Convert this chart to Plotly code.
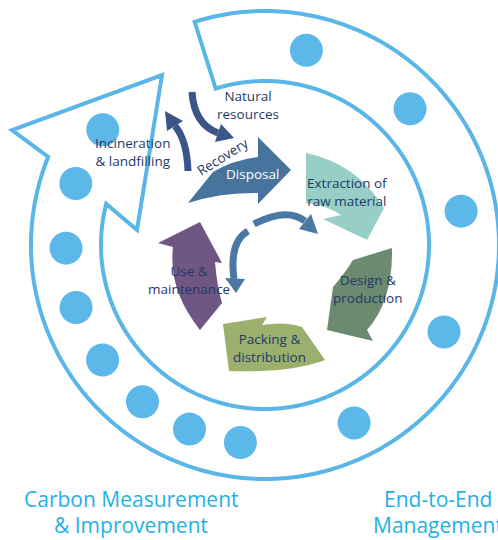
import numpy as np
import plotly.graph_objects as go

W, H = 498, 540

# ---- outer process ring (geometry parameters) ----
ring_center = (265, 245)
ring_r_outer = 234
ring_r_inner = 164
ring_start_deg = -17.5          # square end near the top (clockwise from 12 o'clock)
ring_outer_end_deg = 292.1      # where outer edge meets the arrow head
ring_inner_end_deg = 284.5      # where inner edge meets the arrow head
arrow_head_pts = [(12, 130), (162, 75), (137, 230)]  # left barb, tip, right barb
ring_color = "#5ab6e6"

# dots inside the ring
dot_angles = [12.0, 46.8, 80.2, 115.9, 153.4, 187.1, 202.3, 218.0, 234.7, 251.7, 269.1, 288.0, 305.4]
dot_radius_ring = 199
dot_size = 33
dot_color = "#5bb8e8"

# ---- inner life-cycle arrows (outline paths) ----
cycle_names = ["Disposal", "Extraction", "Design", "Packing", "Use"]
cycle_colors = ["#46749c", "#97cfc7", "#6b8a6f", "#9bb06c", "#6f5683"]
cycle_paths = [
    "M 188 203 L 213 172 Q 233 160 258 157 L 258 137 L 291 170 L 258 204 L 258 193 Q 222 192 188 203 Z",
    "M 306 153 Q 356 163 384 208 L 367 240 L 323 219 L 341 215 Q 326 205 306 203 Z",
    "M 353 260 L 392 248 Q 393 301 367 330 L 373 341 L 327 330 L 333 287 Q 345 273 353 260 Z",
    "M 302 327 L 325 360 Q 291 373 229 371 L 223 324 L 267 317 L 262 325 Q 285 321 302 327 Z",
    "M 200 330 Q 168 290 173 247 L 158 243 L 200 222 L 222 263 L 215 262 Q 217 286 222 303 Z",
]

# small connecting arrows: (line path, head triangle, colour)
small_arrows = [
    ("M 254 224 Q 287 207 305 221", "M 299 229 L 318 234 L 311 214 Z", "#4a78a2"),
    ("M 248 231 Q 229 242 234 279", "M 225 278 L 236 293 L 245 279 Z", "#4a78a2"),
    ("M 192 92 Q 194 124 218 133", "M 215 142 L 234 138 L 221 124 Z", "#3c5589"),
    ("M 188 171 Q 187 140 175 126", "M 183 121 L 165 111 L 167 131 Z", "#3c5589"),
]

# ---- labels ----
label_text = ["Natural<br>resources", "Incineration<br>& landfilling", "Extraction of<br>raw material",
              "Design &<br>production", "Packing &<br>distribution", "Use &<br>maintenance"]
label_xy = [(248, 105), (133, 152), (347, 192), (368, 289), (269, 348), (189, 280)]
navy = "#1f3a68"

caption_lines = ["Carbon Measurement", "& Improvement", "End-to-End", "Management"]
caption_xy = [(131, 499), (131, 525), (438, 499), (438, 525)]
caption_color = "#1fb1e6"

# ---------------------------------------------------------------
cx, cy = ring_center


def polar(r, deg):
    t = np.radians(deg)
    return cx + r * np.sin(t), cy - r * np.cos(t)


parts = []
outer = np.arange(ring_start_deg, ring_outer_end_deg + 0.01, 1.0)
outer = np.append(outer, ring_outer_end_deg)
for i, a in enumerate(outer):
    x, y = polar(ring_r_outer, a)
    parts.append(("M" if i == 0 else "L") + f" {x:.2f} {y:.2f}")
for (x, y) in arrow_head_pts:
    parts.append(f"L {x} {y}")
inner = np.arange(ring_inner_end_deg, ring_start_deg - 0.01, -1.0)
inner = np.append(inner, ring_start_deg)
for a in inner:
    x, y = polar(ring_r_inner, a)
    parts.append(f"L {x:.2f} {y:.2f}")
parts.append("Z")
ring_path = " ".join(parts)

shapes = [dict(type="path", path=ring_path, xref="x", yref="y",
               line=dict(color=ring_color, width=4), fillcolor="rgba(0,0,0,0)", layer="below")]

for p, c in zip(cycle_paths, cycle_colors):
    shapes.append(dict(type="path", path=p, xref="x", yref="y", fillcolor=c, line=dict(width=0)))

for lp, hp, c in small_arrows:
    shapes.append(dict(type="path", path=lp, xref="x", yref="y", line=dict(color=c, width=7)))
    shapes.append(dict(type="path", path=hp, xref="x", yref="y", fillcolor=c, line=dict(width=0)))

fig = go.Figure()

dx = [polar(dot_radius_ring, a)[0] for a in dot_angles]
dy = [polar(dot_radius_ring, a)[1] for a in dot_angles]
fig.add_trace(go.Scatter(x=dx, y=dy, mode="markers",
                         marker=dict(size=dot_size, color=dot_color, line=dict(width=0)),
                         hoverinfo="skip", showlegend=False))

annotations = []
for t, (x, y) in zip(label_text, label_xy):
    annotations.append(dict(x=x, y=y, xref="x", yref="y", text=t, showarrow=False,
                            font=dict(family="Open Sans", size=13.5, color=navy), align="center"))
annotations.append(dict(x=222, y=157, xref="x", yref="y", text="Recovery", showarrow=False,
                        textangle=-32, font=dict(family="Open Sans", size=13.5, color=navy)))
annotations.append(dict(x=252, y=174, xref="x", yref="y", text="Disposal", showarrow=False,
                        font=dict(family="Open Sans", size=13.5, color="white")))
for t, (x, y) in zip(caption_lines, caption_xy):
    annotations.append(dict(x=x, y=y, xref="x", yref="y", text=t, showarrow=False,
                            font=dict(family="Open Sans", size=21, color=caption_color),
                            align="center", borderpad=0))

fig.update_layout(
    width=W, height=H, margin=dict(l=0, r=0, t=0, b=0),
    paper_bgcolor="white", plot_bgcolor="white",
    xaxis=dict(range=[0, W], visible=False, fixedrange=True),
    yaxis=dict(range=[H, 0], visible=False, fixedrange=True),
    shapes=shapes, annotations=annotations, showlegend=False,
)

fig.write_html("out.html", config={"displayModeBar": False},
               post_script="document.body.style.margin='0';document.body.style.overflow='hidden';")
